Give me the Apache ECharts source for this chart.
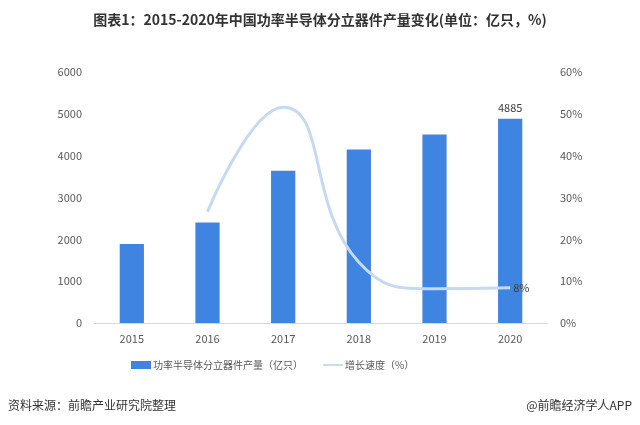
<!DOCTYPE html>
<html>
<head>
<meta charset="utf-8">
<script src="https://cdn.jsdelivr.net/npm/echarts@6/dist/echarts.min.js"></script>
<style>
  html, body { margin: 0; padding: 0; background: #fff; }
  #main { width: 640px; height: 425px; }
</style>
</head>
<body>
<div id="main"></div>
<script>
    var years = ['2015', '2016', '2017', '2018', '2019', '2020'];
    // 产量（亿只）
    var output = [1890, 2400, 3640, 4150, 4506, 4885];
    // 增长速度（%），2015 无数据
    var growth = [null, 26.6, 51.6, 14.5, 8.2, 8.4];

    var myChart = echarts.init(document.getElementById('main'));
    var font = '"Noto Sans CJK SC", sans-serif';

    var option = {
        backgroundColor: '#fff',
        animation: false,
        textStyle: { fontFamily: font },
        title: {
            text: '图表1：2015-2020年中国功率半导体分立器件产量变化(单位：亿只，%)',
            left: 'center',
            top: 8,
            textStyle: { fontSize: 14, fontWeight: 'bold', color: '#333', fontFamily: font }
        },
        legend: {
            bottom: 50,
            left: 126,
            itemGap: 20,
            itemWidth: 20,
            itemHeight: 8,
            textStyle: { fontSize: 10, color: '#595959', padding: [0, 0, 0, -3] },
            data: [
                { name: '功率半导体分立器件产量（亿只）', icon: 'rect' },
                { name: '增长速度（%）', icon: 'path://M0,4 L22,4 L22,6 L0,6 Z' }
            ]
        },
        grid: { left: 94, right: 92, top: 72, bottom: 102 },
        xAxis: {
            type: 'category',
            data: years,
            axisLine: { lineStyle: { color: '#d9d9d9' } },
            axisTick: { show: false },
            axisLabel: { color: '#595959', fontSize: 11, margin: 10 }
        },
        yAxis: [
            {
                type: 'value',
                min: 0, max: 6000, interval: 1000,
                axisLine: { show: false },
                axisTick: { show: false },
                splitLine: { show: false },
                axisLabel: { color: '#595959', fontSize: 11, margin: 12, formatter: function (v) { return String(v); } }
            },
            {
                type: 'value',
                min: 0, max: 60, interval: 10,
                axisLine: { show: false },
                axisTick: { show: false },
                splitLine: { show: false },
                axisLabel: { color: '#595959', fontSize: 11, margin: 12, formatter: '{value}%' }
            }
        ],
        series: [
            {
                name: '功率半导体分立器件产量（亿只）',
                type: 'bar',
                data: output.map(function (v, i) {
                    return {
                        value: v,
                        label: {
                            show: i === output.length - 1,
                            position: 'top',
                            color: '#404040',
                            fontSize: 11
                        }
                    };
                }),
                barWidth: '32%',
                itemStyle: { color: '#3f84e0' }
            },
            {
                name: '增长速度（%）',
                type: 'line',
                yAxisIndex: 1,
                data: growth.map(function (v, i) {
                    return {
                        value: v,
                        label: {
                            show: i === growth.length - 1,
                            position: 'right',
                            color: '#404040',
                            fontSize: 11,
                            distance: 3,
                            formatter: function (p) { return Math.round(p.value) + '%'; }
                        }
                    };
                }),
                smooth: 0.5,
                showSymbol: true,
                symbol: 'circle',
                symbolSize: 0.1,
                lineStyle: { color: '#c6d9f0', width: 3 },
                itemStyle: { color: '#c6d9f0' }
            }
        ],
        graphic: [
            {
                type: 'text', left: 8, top: 399,
                style: { text: '资料来源：前瞻产业研究院整理', fontSize: 12, fill: '#333', fontFamily: font }
            },
            {
                type: 'text', right: 8, top: 399,
                style: { text: '@前瞻经济学人APP', fontSize: 12, fill: '#333', fontFamily: font }
            }
        ]
    };

    myChart.setOption(option);
</script>
</body>
</html>
